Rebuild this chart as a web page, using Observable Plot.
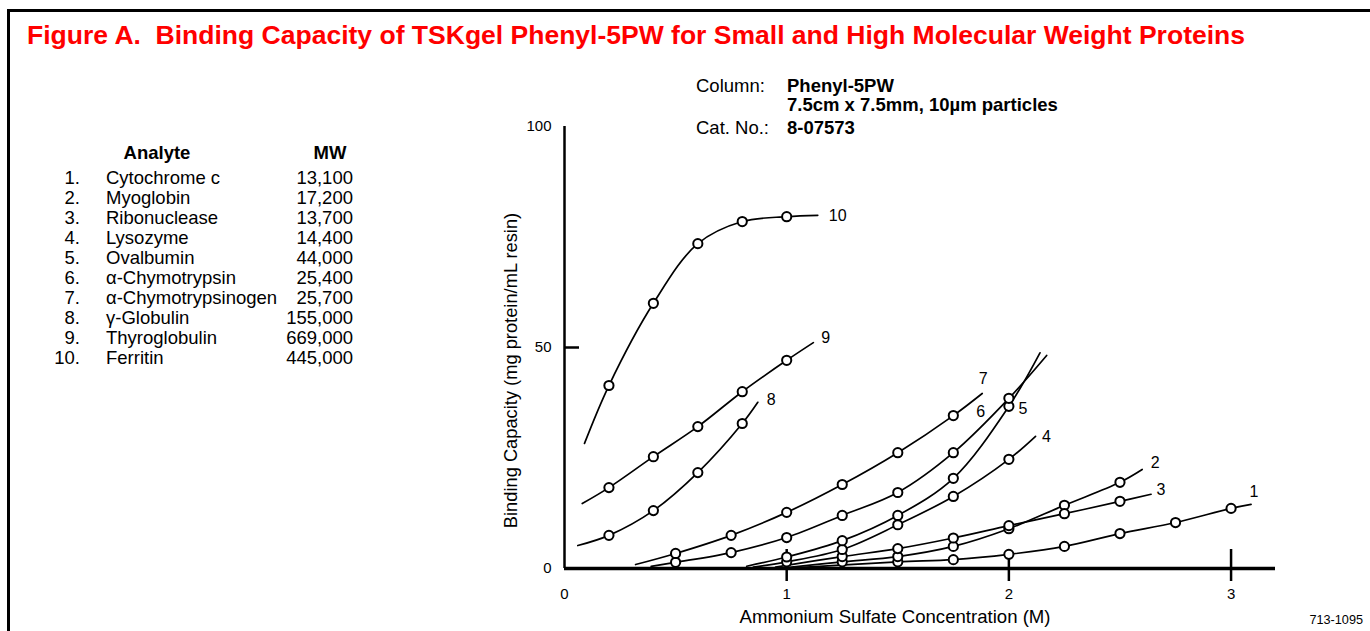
<!DOCTYPE html>
<html><head><meta charset="utf-8">
<script src="https://cdn.jsdelivr.net/npm/d3@7"></script>
<script src="https://cdn.jsdelivr.net/npm/@observablehq/plot@0.6"></script>
<style>
body{margin:0;background:#fff;font-family:"Liberation Sans",Arial,sans-serif;color:#000;}
#wrap{position:relative;width:1370px;height:631px;overflow:hidden;background:#fff;}
#frame{position:absolute;left:7px;top:9px;width:1400px;height:700px;border-top:3px solid #000;border-left:3px solid #000;}
#chart{position:absolute;left:0;top:0;}
.t{position:absolute;white-space:nowrap;line-height:20px;font-size:18.5px;}
#title{position:absolute;left:27px;top:20px;color:#ff0000;font-weight:bold;font-size:25px;white-space:pre;transform-origin:0 0;line-height:30px;}
.b{font-weight:bold;}
</style></head>
<body><div id="wrap"><div id="frame"></div><div id="chart"></div><div id="title"></div><div id="overlay"></div></div>
<script>
// ---- data ----
const titleText = "Figure A.  Binding Capacity of TSKgel Phenyl-5PW for Small and High Molecular Weight Proteins";
const analyteNames = ["Cytochrome c","Myoglobin","Ribonuclease","Lysozyme","Ovalbumin","\u03b1-Chymotrypsin","\u03b1-Chymotrypsinogen","\u03b3-Globulin","Thyroglobulin","Ferritin"];
const analyteMW = ["13,100","17,200","13,700","14,400","44,000","25,400","25,700","155,000","669,000","445,000"];
const xTicks = [0, 1, 2, 3];
const yTicks = [0, 50, 100];
const xLabel = "Ammonium Sulfate Concentration (M)";
const yLabel = "Binding Capacity (mg protein/mL resin)";
// curves: [concentration (M), capacity (mg/mL)]; first and last points are line ends without markers
const curve1 = [[1.05,0.2],[1.5,1.5],[1.75,2.0],[2.0,3.2],[2.25,5.0],[2.5,7.9],[2.75,10.4],[3.0,13.6],[3.09,14.5]];
const curve2 = [[1.0,0.2],[1.25,1.5],[1.5,2.7],[1.75,5.0],[2.0,9.0],[2.25,14.3],[2.5,19.5],[2.6,22.4]];
const curve3 = [[0.95,0.3],[1.25,2.7],[1.5,4.5],[1.75,6.9],[2.0,9.7],[2.25,12.4],[2.5,15.2],[2.64,16.8]];
const curve4 = [[0.85,0.3],[1.0,1.5],[1.25,4.3],[1.5,9.9],[1.75,16.3],[2.0,24.7],[2.12,29.9]];
const curve5 = [[0.82,0.5],[1.0,2.6],[1.25,6.3],[1.5,12.0],[1.75,20.4],[2.0,36.7],[2.14,48.8]];
const curve6 = [[0.39,0.5],[0.5,1.4],[0.75,3.6],[1.0,7.0],[1.25,12.0],[1.5,17.2],[1.75,26.2],[2.0,38.5],[2.17,48.2]];
const curve7 = [[0.32,0.9],[0.5,3.4],[0.75,7.5],[1.0,12.7],[1.25,19.0],[1.5,26.2],[1.75,34.6],[1.88,39.6]];
const curve8 = [[0.06,5.2],[0.2,7.5],[0.4,13.1],[0.6,21.7],[0.8,32.8],[0.87,37.6]];
const curve9 = [[0.08,14.7],[0.2,18.3],[0.4,25.3],[0.6,32.1],[0.8,40.0],[1.0,47.1],[1.12,51.1]];
const curve10 = [[0.09,28.3],[0.2,41.4],[0.4,60.0],[0.6,73.5],[0.8,78.5],[1.0,79.6],[1.14,79.9]];
const curveIds = ["1","2","3","4","5","6","7","8","9","10"];
const curves = [curve1,curve2,curve3,curve4,curve5,curve6,curve7,curve8,curve9,curve10];

// ---- styles (label offsets from each curve's end, px) ----
const labelStyle = {
  "1":[3,-13,"middle"], "2":[13,-7,"middle"], "3":[10,-4,"middle"], "4":[11,1,"middle"],
  "5":[-17,56,"middle"], "6":[-66,56,"middle"], "7":[1,-15,"middle"], "8":[9,-2,"start"],
  "9":[8,-5,"start"], "10":[11,1,"start"]
};

// ---- tables for Plot ----
const lineRows = curves.flatMap((c,i)=>c.map(([x,y])=>({id:curveIds[i],x,y})));
const markerRows = curves.flatMap((c,i)=>c.slice(1,-1).map(([x,y])=>({id:curveIds[i],x,y})));
const labelRows = curves.map((c,i)=>({id:curveIds[i],x:c[c.length-1][0],y:c[c.length-1][1]}));

const font = "'Liberation Sans', Arial, sans-serif";
const plot = Plot.plot({
  width:1370, height:631,
  marginLeft:564, marginRight:95, marginTop:126, marginBottom:63,
  x:{domain:[0,3.2]}, y:{domain:[0,100]},
  style:{fontFamily:font, fontSize:"15px", background:"transparent", color:"#000"},
  marks:[
    Plot.ruleX([1,2,3], {y1:0, y2:0, insetTop:-19, insetBottom:-13, strokeWidth:2.5}),
    Plot.ruleY([50], {x1:0, x2:0, insetRight:-15, strokeWidth:2.5}),
    Plot.ruleY([0], {x1:0, x2:3.2, strokeWidth:3.5}),
    Plot.ruleX([0], {y1:0, y2:100, strokeWidth:2.5}),
    Plot.axisX({ticks:xTicks, tickSize:0, tickPadding:20, tickFormat:d3.format("d"), label:null, fontSize:15}),
    Plot.axisY({ticks:yTicks, tickSize:0, tickPadding:13, tickFormat:d3.format("d"), label:null, fontSize:15}),
    Plot.line(lineRows, {x:"x", y:"y", z:"id", curve:"catmull-rom", stroke:"#000", strokeWidth:1.7}),
    Plot.dot(markerRows, {x:"x", y:"y", r:4.6, fill:"#fff", stroke:"#000", strokeWidth:2}),
    ...curveIds.map(id=>Plot.text(labelRows.filter(d=>d.id===id), {x:"x", y:"y", text:"id", dx:labelStyle[id][0], dy:labelStyle[id][1], textAnchor:labelStyle[id][2], fontSize:16})),
    Plot.text([xLabel], {frameAnchor:"bottom", text:d=>d, dx:-25, dy:49, lineAnchor:"middle", textAnchor:"middle", fontSize:18.6}),
    Plot.text([yLabel], {frameAnchor:"left", text:d=>d, rotate:-90, dx:-53, dy:23, lineAnchor:"middle", textAnchor:"middle", fontSize:18.3})
  ]
});
document.getElementById("chart").appendChild(plot);

// ---- HTML texts ----
const ov = document.getElementById("overlay");
function addText(html, left, top, cls, align){
  const d = document.createElement("div");
  d.className = "t " + (cls||"");
  d.innerHTML = html;
  d.style.top = top + "px";
  if (align === "right") { d.style.right = (1370-left) + "px"; }
  else if (align === "center") { d.style.left = left + "px"; d.style.transform = "translateX(-50%)"; }
  else d.style.left = left + "px";
  ov.appendChild(d);
}
addText("Analyte", 157, 143, "b", "center");
addText("MW", 330, 143, "b", "center");
analyteNames.forEach((n,i)=>{
  const top = 168 + 20*i;
  addText((i+1)+".", 80, top, "", "right");
  addText(n, 106, top, "");
  addText(analyteMW[i], 353, top, "", "right");
});
addText("Column:", 696, 76, "");
addText("Phenyl-5PW", 787, 76, "b");
addText("7.5cm x 7.5mm, 10\u00b5m particles", 787, 95, "b");
addText("Cat. No.:", 696, 118, "");
addText("8-07573", 787, 118, "b");
const code = document.createElement("div");
code.className = "t"; code.style.fontSize = "12.7px"; code.style.right = "7px"; code.style.top = "610px";
code.textContent = "713-1095"; ov.appendChild(code);

const title = document.getElementById("title");
title.textContent = titleText;
const w = title.getBoundingClientRect().width;
title.style.transform = "scaleX(" + (1218 / w) + ")";
</script></body></html>
